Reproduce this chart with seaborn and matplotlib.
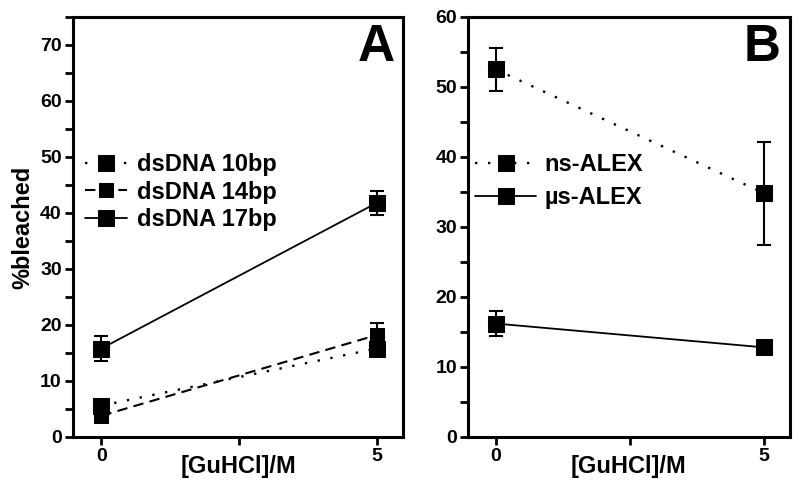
import matplotlib
matplotlib.use("Agg")
import matplotlib.pyplot as plt
import seaborn as sns
from matplotlib.ticker import MultipleLocator, FixedLocator

# data
guhcl = [0, 5]

# panel A
ds10_mean = [5.6, 15.8]
ds10_err = [1.0, 1.0]
ds14_mean = [3.8, 18.2]
ds14_err = [0.8, 2.1]
ds17_mean = [15.8, 41.8]
ds17_err = [2.2, 2.2]

# panel B
ns_mean = [52.5, 34.8]
ns_err = [3.1, 7.4]
us_mean = [16.2, 12.8]
us_err = [1.8, 0.6]

sns.set_style("ticks")
plt.rcParams["font.family"] = ["Liberation Sans", "DejaVu Sans"]
plt.rcParams["font.weight"] = "bold"
plt.rcParams["axes.linewidth"] = 2.2
for key in ["text.color", "axes.labelcolor", "xtick.color", "ytick.color", "axes.edgecolor"]:
    plt.rcParams[key] = "black"

fig = plt.figure(figsize=(8, 4.93), dpi=100)
axA = fig.add_axes([0.091, 0.1136, 0.413, 0.852])
axB = fig.add_axes([0.585, 0.1136, 0.4025, 0.852])


def draw_series(ax, y, err, label, ls, ms, lw=1.3):
    sns.lineplot(x=guhcl, y=y, ax=ax, color="black", linestyle=ls, linewidth=lw,
                 marker="s", markersize=ms, markeredgecolor="black", label=label)
    ax.errorbar(guhcl, y, yerr=err, fmt="none", ecolor="black", elinewidth=1.5,
                capsize=5, capthick=1.5)


def style_axes(ax, ytop):
    ax.set_xlim(-0.52, 5.48)
    ax.set_ylim(0, ytop)
    ax.xaxis.set_major_locator(FixedLocator([0, 5]))
    ax.xaxis.set_minor_locator(FixedLocator([2.5]))
    ax.yaxis.set_major_locator(MultipleLocator(10))
    ax.yaxis.set_minor_locator(MultipleLocator(5))
    ax.tick_params(which="both", direction="out", length=6, width=2,
                   top=False, right=False, labelsize=14, pad=2, colors="black")
    for sp in ax.spines.values():
        sp.set_visible(True)
        sp.set_linewidth(2.2)
        sp.set_color("black")
    for lab in ax.get_xticklabels() + ax.get_yticklabels():
        lab.set_fontweight("bold")
    ax.set_xlabel("[GuHCl]/M", fontsize=17, fontweight="bold", labelpad=-7)


# Panel A
draw_series(axA, ds10_mean, ds10_err, "dsDNA 10bp", (0, (1, 4.5)), 11, lw=1.7)
draw_series(axA, ds14_mean, ds14_err, "dsDNA 14bp", (0, (5, 3)), 10, lw=1.5)
draw_series(axA, ds17_mean, ds17_err, "dsDNA 17bp", "-", 11)
style_axes(axA, 75)
axA.set_ylabel("%bleached", fontsize=17, fontweight="bold", labelpad=4)
axA.text(0.975, 0.985, "A", transform=axA.transAxes, ha="right", va="top",
         fontsize=37, fontweight="bold")
axA.legend(loc="upper left", bbox_to_anchor=(0.036, 0.675), frameon=False,
           prop={"size": 17, "weight": "bold"}, handlelength=1.8,
           handletextpad=0.4, labelspacing=0.18, borderpad=0, borderaxespad=0)

# Panel B
draw_series(axB, ns_mean, ns_err, "ns-ALEX", (0, (1, 4.5)), 11, lw=1.7)
draw_series(axB, us_mean, us_err, "\u00b5s-ALEX", "-", 11)
style_axes(axB, 60)
axB.set_ylabel("")
axB.text(0.97, 0.985, "B", transform=axB.transAxes, ha="right", va="top",
         fontsize=37, fontweight="bold")
axB.legend(loc="upper left", bbox_to_anchor=(0.022, 0.675), frameon=False,
           prop={"size": 17, "weight": "bold"}, handlelength=2.6,
           handletextpad=0.35, labelspacing=0.42, borderpad=0, borderaxespad=0)

fig.savefig("out.png", dpi=100)
